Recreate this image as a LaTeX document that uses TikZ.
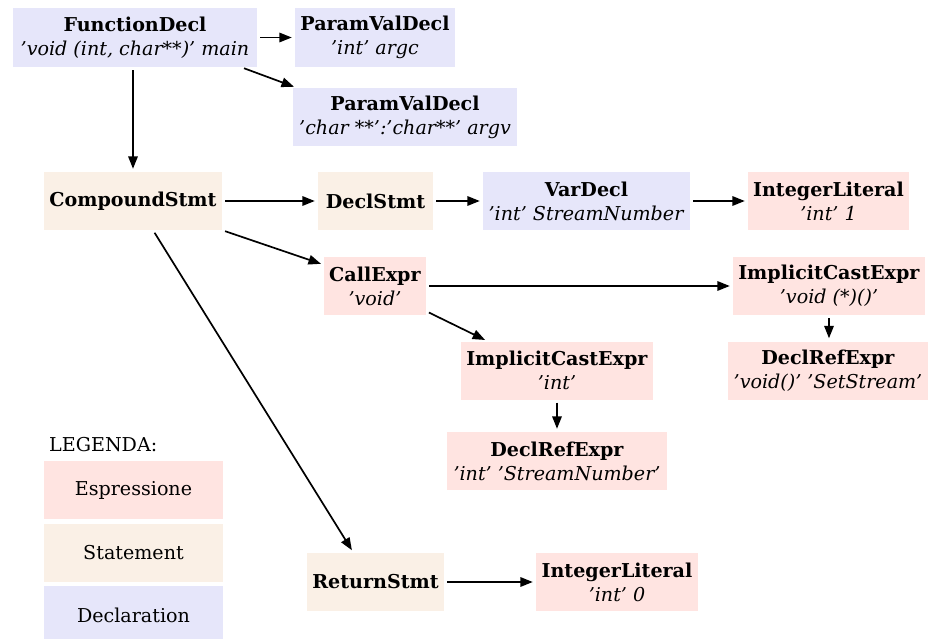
\documentclass[tikz,border=0pt]{standalone}
\usepackage{fontspec}
\setmainfont{DejaVu Serif}
\usetikzlibrary{arrows.meta}
% node fill colours for the three kinds of AST nodes
\definecolor{exprcol}{RGB}{255,228,225}
\definecolor{stmtcol}{RGB}{250,240,230}
\definecolor{declcol}{RGB}{230,230,250}
\begin{document}
\begin{tikzpicture}[x=1pt,y=-1pt,
  font=\fontsize{19.1}{24}\selectfont,
  box/.style={inner sep=0pt, minimum height=58pt, align=center},
  expr/.style={box, fill=exprcol},
  stmt/.style={box, fill=stmtcol},
  decl/.style={box, fill=declcol},
  arr/.style={-{Triangle[length=12.5pt,width=9.5pt]}, line width=1.7pt,
              shorten >=3pt, shorten <=3pt}]
\clip (0,0) rectangle (929,639);

% declarations
\node[decl, minimum width=244pt, minimum height=59pt] (fd) at (135,37.5)
  {\textbf{FunctionDecl}\\\textit{’void (int, char**)’ main}};
\node[decl, minimum width=160pt, minimum height=59pt] (pvd1) at (375,37.5)
  {\textbf{ParamValDecl}\\\textit{’int’ argc}};
\node[decl, minimum width=224pt] (pvd2) at (405,117)
  {\textbf{ParamValDecl}\\\textit{’char **’:’char**’ argv}};
\node[decl, minimum width=207pt] (vd) at (586.5,201)
  {\textbf{VarDecl}\\\textit{’int’ StreamNumber}};

% statements
\node[stmt, minimum width=178pt] (cs) at (133,201) {\textbf{CompoundStmt}};
\node[stmt, minimum width=115pt] (ds) at (375.5,201) {\textbf{DeclStmt}};
\node[stmt, minimum width=137pt] (rs) at (375.5,582) {\textbf{ReturnStmt}};

% expressions
\node[expr, minimum width=161pt] (il1) at (828.5,201)
  {\textbf{IntegerLiteral}\\\textit{’int’ 1}};
\node[expr, minimum width=102pt] (ce) at (375,286)
  {\textbf{CallExpr}\\\textit{’void’}};
\node[expr, minimum width=192pt] (ice1) at (829,286)
  {\textbf{ImplicitCastExpr}\\\textit{’void (*)()’}};
\node[expr, minimum width=200pt] (dre1) at (828,370.5)
  {\textbf{DeclRefExpr}\\\textit{’void()’ ’SetStream’}};
\node[expr, minimum width=192pt] (ice2) at (557,370.5)
  {\textbf{ImplicitCastExpr}\\\textit{’int’}};
\node[expr, minimum width=220pt] (dre2) at (557,461)
  {\textbf{DeclRefExpr}\\\textit{’int’ ’StreamNumber’}};
\node[expr, minimum width=162pt] (il0) at (617,582)
  {\textbf{IntegerLiteral}\\\textit{’int’ 0}};

% legend
\node[anchor=west, inner sep=0pt] (leg) at (49,445) {LEGENDA:};
\node[expr, minimum width=179pt] (lege) at (133.5,490) {Espressione};
\node[stmt, minimum width=179pt] (legs) at (133.5,553) {Statement};
\node[decl, minimum width=179pt] (legd) at (133.5,615) {Declaration};

% edges
\draw[arr] (fd.east) -- (pvd1.west);
\draw[arr] ([xshift=-16pt]fd.south east) -- ([xshift=4pt]pvd2.north west);
\draw[arr] (fd.south -| cs.north) -- (cs.north);
\draw[arr] (cs.east) -- (ds.west);
\draw[arr] (ds.east) -- (vd.west);
\draw[arr] (vd.east) -- (il1.west);
\draw[arr] (cs.south east) -- ([yshift=-8pt]ce.north west);
\draw[arr] ([xshift=20pt]cs.south) -- ([xshift=-22pt]rs.north);
\draw[arr] (ce.east) -- (ice1.west);
\draw[arr] ([yshift=4pt]ce.south east) -- ([xshift=27pt]ice2.north west);
\draw[arr] (ice1.south) -- (ice1.south |- dre1.north);
\draw[arr] (ice2.south) -- (dre2.north);
\draw[arr] (rs.east) -- (il0.west);
\end{tikzpicture}
\end{document}
